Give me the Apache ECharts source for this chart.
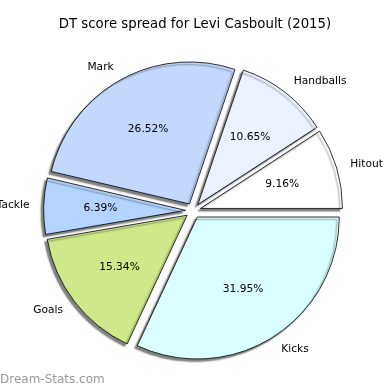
<!DOCTYPE html>
<html>
<head>
<meta charset="utf-8">
<script src="https://cdn.jsdelivr.net/npm/echarts@6/dist/echarts.min.js"></script>
<style>html,body{margin:0;padding:0;background:#fff}#c{width:390px;height:390px}</style>
</head>
<body>
<div id="c"></div>
<script>
const categories = ['Hitout', 'Handballs', 'Mark', 'Tackle', 'Goals', 'Kicks'];
const values = [9.16, 10.65, 26.52, 6.39, 15.34, 31.95];
const colors = ['#ffffff', '#eaf1ff', '#c4d8ff', '#b3d4ff', '#cfe98a', '#d9ffff'];
const titleText = 'DT score spread for Levi Casboult (2015)';
const watermark = 'Dream-Stats.com';

const R = 142;
const center = [193.2, 210.6];
const offset = 7.6;
const font = 'DejaVu Sans';

const mainData = categories.map((n, i) => ({
  name: n, value: values[i], selected: true,
  itemStyle: { color: colors[i] }
}));
const pctData = categories.map((n, i) => ({ name: n, value: values[i], selected: true }));

const chart = echarts.init(document.getElementById('c'), null, { renderer: 'canvas' });
chart.setOption({
  animation: false,
  backgroundColor: '#fff',
  title: [
    { text: titleText, left: 'center', top: 17, padding: 0,
      textStyle: { fontFamily: font, fontSize: 13.3, fontWeight: 'normal', color: '#000', lineHeight: 16 } },
    { text: watermark, left: 0, top: 372, padding: 0,
      textStyle: { fontFamily: font, fontSize: 12, fontWeight: 'normal', color: '#999', lineHeight: 16 } }
  ],
  series: [
    {
      type: 'pie', center: center, radius: [0, R],
      startAngle: 0, clockwise: false,
      selectedMode: 'multiple', selectedOffset: offset,
      avoidLabelOverlap: false, silent: true,
      emphasis: { disabled: true }, select: { disabled: false },
      itemStyle: { borderColor: '#000', borderWidth: 0.8,
        shadowColor: 'rgba(30,30,30,0.55)', shadowBlur: 1.5, shadowOffsetX: -2.5, shadowOffsetY: 2.5 },
      label: { show: true, position: 'outside', formatter: '{b}', distanceToLabelLine: 0,
        fontFamily: font, fontSize: 10.67, color: '#000' },
      labelLine: { show: false, length: 14.2, length2: 0 },
      data: mainData
    },
    {
      type: 'pie', center: center, radius: [0, 164.4],
      startAngle: 0, clockwise: false,
      selectedMode: 'multiple', selectedOffset: offset,
      avoidLabelOverlap: false, silent: true,
      emphasis: { disabled: true },
      itemStyle: { color: 'rgba(0,0,0,0)', borderWidth: 0 },
      label: { show: true, position: 'inside', formatter: (p) => p.value.toFixed(2) + '%',
        fontFamily: font, fontSize: 10.67, color: '#000' },
      labelLine: { show: false },
      data: pctData
    }
  ]
});
</script>
</body>
</html>
